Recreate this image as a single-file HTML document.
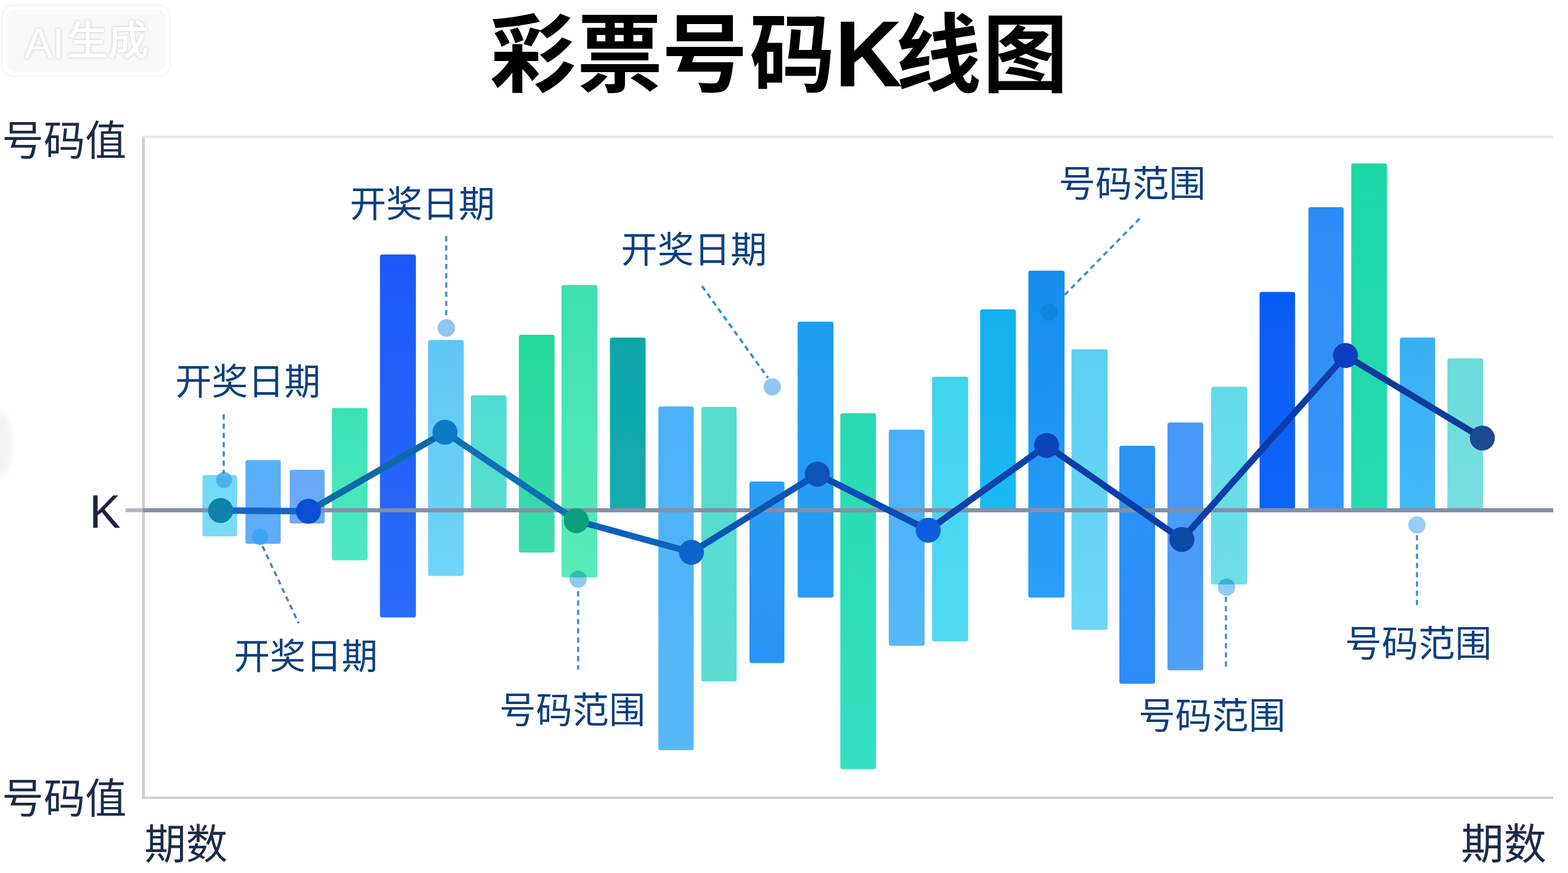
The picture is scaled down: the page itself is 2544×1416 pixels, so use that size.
<!DOCTYPE html>
<html lang="zh"><head><meta charset="utf-8"><title>彩票号码K线图</title>
<style>
html,body{margin:0;padding:0;background:#fff;font-family:"Liberation Sans",sans-serif;}
body{width:2544px;height:1416px;overflow:hidden;}
svg{display:block;}
svg text{font-family:"Liberation Sans","Noto Sans CJK SC",sans-serif;}
</style></head><body>
<svg role="img" aria-label="彩票号码K线图" width="2544" height="1416" viewBox="0 0 2544 1416">
<title>彩票号码K线图</title>
<desc>彩票号码K线图 — 纵轴: 号码值, K; 横轴: 期数; 标注: 开奖日期, 号码范围; 水印: AI生成</desc>
<defs>
<filter id="wmsh" x="-10%" y="-20%" width="120%" height="140%"><feDropShadow dx="0" dy="0" stdDeviation="3" flood-color="#000" flood-opacity="0.10"/></filter>
<filter id="txsh" x="-10%" y="-20%" width="120%" height="140%"><feDropShadow dx="0" dy="0" stdDeviation="2.2" flood-color="#000" flood-opacity="0.22"/></filter>
<filter id="soft3" x="-50%" y="-50%" width="200%" height="200%"><feGaussianBlur stdDeviation="5"/></filter>
<filter id="soft" x="0" y="0" width="100%" height="100%" filterUnits="userSpaceOnUse"><feGaussianBlur stdDeviation="0.55"/></filter>
<linearGradient id="b0" x1="0" y1="0" x2="0" y2="1"><stop offset="0" stop-color="#72d8f8"/><stop offset="1" stop-color="#7adcf8"/></linearGradient>
<linearGradient id="b1" x1="0" y1="0" x2="0" y2="1"><stop offset="0" stop-color="#56b0f8"/><stop offset="1" stop-color="#62aaf8"/></linearGradient>
<linearGradient id="b2" x1="0" y1="0" x2="0" y2="1"><stop offset="0" stop-color="#64aaf8"/><stop offset="1" stop-color="#6ea8f8"/></linearGradient>
<linearGradient id="b3" x1="0" y1="0" x2="0" y2="1"><stop offset="0" stop-color="#3ce2b4"/><stop offset="1" stop-color="#50eac2"/></linearGradient>
<linearGradient id="b4" x1="0" y1="0" x2="0" y2="1"><stop offset="0" stop-color="#1c58f6"/><stop offset="1" stop-color="#2a6cfa"/></linearGradient>
<linearGradient id="b5" x1="0" y1="0" x2="0" y2="1"><stop offset="0" stop-color="#5ec6f4"/><stop offset="1" stop-color="#70d6f8"/></linearGradient>
<linearGradient id="b6" x1="0" y1="0" x2="0" y2="1"><stop offset="0" stop-color="#4cdcd2"/><stop offset="1" stop-color="#5adece"/></linearGradient>
<linearGradient id="b7" x1="0" y1="0" x2="0" y2="1"><stop offset="0" stop-color="#22d89a"/><stop offset="1" stop-color="#3cdcac"/></linearGradient>
<linearGradient id="b8" x1="0" y1="0" x2="0" y2="1"><stop offset="0" stop-color="#3edfb0"/><stop offset="1" stop-color="#58ecb8"/></linearGradient>
<linearGradient id="b9" x1="0" y1="0" x2="0" y2="1"><stop offset="0" stop-color="#0ea6aa"/><stop offset="1" stop-color="#14acae"/></linearGradient>
<linearGradient id="b10" x1="0" y1="0" x2="0" y2="1"><stop offset="0" stop-color="#4ab2f8"/><stop offset="1" stop-color="#56b8f8"/></linearGradient>
<linearGradient id="b11" x1="0" y1="0" x2="0" y2="1"><stop offset="0" stop-color="#54dccc"/><stop offset="1" stop-color="#5cdcd2"/></linearGradient>
<linearGradient id="b12" x1="0" y1="0" x2="0" y2="1"><stop offset="0" stop-color="#2c9ef4"/><stop offset="1" stop-color="#2894f4"/></linearGradient>
<linearGradient id="b13" x1="0" y1="0" x2="0" y2="1"><stop offset="0" stop-color="#1e9cee"/><stop offset="1" stop-color="#2a9cf8"/></linearGradient>
<linearGradient id="b14" x1="0" y1="0" x2="0" y2="1"><stop offset="0" stop-color="#28dab4"/><stop offset="1" stop-color="#34e0c0"/></linearGradient>
<linearGradient id="b15" x1="0" y1="0" x2="0" y2="1"><stop offset="0" stop-color="#4ab0f8"/><stop offset="1" stop-color="#56b8f8"/></linearGradient>
<linearGradient id="b16" x1="0" y1="0" x2="0" y2="1"><stop offset="0" stop-color="#40d4ee"/><stop offset="1" stop-color="#52d8f2"/></linearGradient>
<linearGradient id="b17" x1="0" y1="0" x2="0" y2="1"><stop offset="0" stop-color="#14b0ee"/><stop offset="1" stop-color="#1eb8f4"/></linearGradient>
<linearGradient id="b18" x1="0" y1="0" x2="0" y2="1"><stop offset="0" stop-color="#168eee"/><stop offset="1" stop-color="#2a9efa"/></linearGradient>
<linearGradient id="b19" x1="0" y1="0" x2="0" y2="1"><stop offset="0" stop-color="#5acef2"/><stop offset="1" stop-color="#6ed8f8"/></linearGradient>
<linearGradient id="b20" x1="0" y1="0" x2="0" y2="1"><stop offset="0" stop-color="#2a94f4"/><stop offset="1" stop-color="#2e8cf6"/></linearGradient>
<linearGradient id="b21" x1="0" y1="0" x2="0" y2="1"><stop offset="0" stop-color="#4698f8"/><stop offset="1" stop-color="#50a0f8"/></linearGradient>
<linearGradient id="b22" x1="0" y1="0" x2="0" y2="1"><stop offset="0" stop-color="#62dcea"/><stop offset="1" stop-color="#6edee6"/></linearGradient>
<linearGradient id="b23" x1="0" y1="0" x2="0" y2="1"><stop offset="0" stop-color="#065cf4"/><stop offset="1" stop-color="#0c64f6"/></linearGradient>
<linearGradient id="b24" x1="0" y1="0" x2="0" y2="1"><stop offset="0" stop-color="#2c8cf6"/><stop offset="1" stop-color="#3696fa"/></linearGradient>
<linearGradient id="b25" x1="0" y1="0" x2="0" y2="1"><stop offset="0" stop-color="#1cd8a6"/><stop offset="1" stop-color="#26dab0"/></linearGradient>
<linearGradient id="b26" x1="0" y1="0" x2="0" y2="1"><stop offset="0" stop-color="#38b0f2"/><stop offset="1" stop-color="#42b8f6"/></linearGradient>
<linearGradient id="b27" x1="0" y1="0" x2="0" y2="1"><stop offset="0" stop-color="#6adcdc"/><stop offset="1" stop-color="#78dede"/></linearGradient>
</defs>
<rect width="2544" height="1416" fill="#fff"/>
<g filter="url(#soft)">
<rect x="7" y="13" width="265" height="106" rx="17" fill="#f9f9f9" stroke="#ffffff" stroke-width="6" filter="url(#wmsh)"/>
<g filter="url(#txsh)">
<text x="40" y="94" font-size="68" font-weight="500" fill="#ffffff">AI</text>
<text x="109.16" y="88.86" font-size="66" font-weight="500" fill="#ffffff">生成</text>
</g>
<ellipse cx="0" cy="720" rx="20" ry="54" fill="#f4f4f4" filter="url(#soft3)"/>
<line x1="232.7" y1="220" x2="232.7" y2="1296" stroke="#cdced3" stroke-width="4.6"/>
<line x1="230.4" y1="222" x2="2520" y2="222" stroke="#e6e7ea" stroke-width="3.6"/>
<line x1="230.4" y1="1294" x2="2520" y2="1294" stroke="#cfd0d5" stroke-width="4.2"/>
<line x1="1849" y1="354.5" x2="1716" y2="490" stroke="#3d8fd6" stroke-width="3.6" stroke-dasharray="8.5 6.5" fill="none"/>
<rect x="328.5" y="770.5" width="56.2" height="99.5" rx="3.5" fill="url(#b0)"/>
<rect x="398.3" y="746.2" width="57.2" height="135.8" rx="3.5" fill="url(#b1)"/>
<rect x="470.0" y="762.0" width="56.8" height="87.0" rx="3.5" fill="url(#b2)"/>
<rect x="538.5" y="661.7" width="57.9" height="247.0" rx="3.5" fill="url(#b3)"/>
<rect x="616.5" y="412.7" width="58.3" height="588.8" rx="3.5" fill="url(#b4)"/>
<rect x="694.5" y="551.4" width="58.0" height="382.8" rx="3.5" fill="url(#b5)"/>
<rect x="764.0" y="641.3" width="57.8" height="184.7" rx="3.5" fill="url(#b6)"/>
<rect x="841.8" y="543.0" width="57.9" height="353.3" rx="3.5" fill="url(#b7)"/>
<rect x="911.0" y="462.3" width="58.0" height="474.2" rx="3.5" fill="url(#b8)"/>
<rect x="989.6" y="547.6" width="57.9" height="278.4" rx="3.5" fill="url(#b9)"/>
<rect x="1068.2" y="659.3" width="57.3" height="557.4" rx="3.5" fill="url(#b10)"/>
<rect x="1137.8" y="660.0" width="57.4" height="445.3" rx="3.5" fill="url(#b11)"/>
<rect x="1216.0" y="781.0" width="56.7" height="294.4" rx="3.5" fill="url(#b12)"/>
<rect x="1294.2" y="521.8" width="58.1" height="447.5" rx="3.5" fill="url(#b13)"/>
<rect x="1363.3" y="670.2" width="58.0" height="577.3" rx="3.5" fill="url(#b14)"/>
<rect x="1442.0" y="696.9" width="58.2" height="350.6" rx="3.5" fill="url(#b15)"/>
<rect x="1512.3" y="611.1" width="58.5" height="429.3" rx="3.5" fill="url(#b16)"/>
<rect x="1590.2" y="501.7" width="58.0" height="324.3" rx="3.5" fill="url(#b17)"/>
<rect x="1668.4" y="439.0" width="58.8" height="530.2" rx="3.5" fill="url(#b18)"/>
<rect x="1738.5" y="566.4" width="58.5" height="455.1" rx="3.5" fill="url(#b19)"/>
<rect x="1816.1" y="723.0" width="57.9" height="386.0" rx="3.5" fill="url(#b20)"/>
<rect x="1894.2" y="685.3" width="57.9" height="401.9" rx="3.5" fill="url(#b21)"/>
<rect x="1965.0" y="627.3" width="58.6" height="320.7" rx="3.5" fill="url(#b22)"/>
<rect x="2043.6" y="473.5" width="57.6" height="352.5" rx="3.5" fill="url(#b23)"/>
<rect x="2122.8" y="336.1" width="57.2" height="489.9" rx="3.5" fill="url(#b24)"/>
<rect x="2192.3" y="265.2" width="58.1" height="560.8" rx="3.5" fill="url(#b25)"/>
<rect x="2271.2" y="547.6" width="57.3" height="278.4" rx="3.5" fill="url(#b26)"/>
<rect x="2348.3" y="581.2" width="58.0" height="244.8" rx="3.5" fill="url(#b27)"/>
<circle cx="363.6" cy="778.5" r="13.0" fill="#45aee6" fill-opacity="0.85"/>
<line x1="363.0" y1="672.0" x2="363.0" y2="768.0" stroke="#3f86c4" stroke-width="3.5" stroke-dasharray="8.5 6.5" fill="none"/>
<circle cx="724.2" cy="532.0" r="14.3" fill="#8fc6f2" fill-opacity="1"/>
<line x1="724.0" y1="383.0" x2="724.0" y2="518.0" stroke="#3f8fd2" stroke-width="3.5" stroke-dasharray="8.5 6.5" fill="none"/>
<circle cx="1253.0" cy="627.5" r="14.0" fill="#93c7f0" fill-opacity="1"/>
<line x1="1139.0" y1="464.0" x2="1246.0" y2="613.0" stroke="#3b8ed8" stroke-width="3.8" stroke-dasharray="8.5 6.5" fill="none"/>
<circle cx="422.0" cy="871.0" r="13.0" fill="#3aa2f6" fill-opacity="0.9"/>
<line x1="426.0" y1="886.0" x2="484.5" y2="1011.0" stroke="#3f86c8" stroke-width="3.5" stroke-dasharray="8.5 6.5" fill="none"/>
<circle cx="938.0" cy="939.5" r="14.0" fill="#8ccdf2" fill-opacity="1" style="mix-blend-mode:multiply"/>
<line x1="938.0" y1="959.0" x2="938.0" y2="1086.0" stroke="#3f8fd2" stroke-width="3.5" stroke-dasharray="8.5 6.5" fill="none"/>
<circle cx="1702.0" cy="506.3" r="14.0" fill="#0e86de" fill-opacity="1"/>
<circle cx="1990.0" cy="952.5" r="14.0" fill="#90ccf4" fill-opacity="1" style="mix-blend-mode:multiply"/>
<line x1="1989.0" y1="968.0" x2="1989.0" y2="1086.0" stroke="#3f8fd2" stroke-width="3.5" stroke-dasharray="8.5 6.5" fill="none"/>
<circle cx="2299.0" cy="851.5" r="14.0" fill="#98cdf6" fill-opacity="1"/>
<line x1="2299.0" y1="868.0" x2="2299.0" y2="984.0" stroke="#3f8fd2" stroke-width="3.5" stroke-dasharray="8.5 6.5" fill="none"/>
<line x1="204" y1="827.6" x2="232" y2="827.6" stroke="#b4b7c2" stroke-width="6.4"/>
<line x1="232" y1="827.6" x2="2520" y2="827.6" stroke="#8390a8" stroke-width="6.8"/>
<line x1="358.0" y1="828.0" x2="500.5" y2="829.2" stroke="#1466c6" stroke-width="10.4" stroke-linecap="round"/>
<line x1="500.5" y1="829.2" x2="722.0" y2="701.0" stroke="#0e6aa6" stroke-width="10.4" stroke-linecap="round"/>
<line x1="722.0" y1="701.0" x2="935.0" y2="844.5" stroke="#0a70b2" stroke-width="10.4" stroke-linecap="round"/>
<line x1="935.0" y1="844.5" x2="1121.8" y2="895.8" stroke="#0a62ba" stroke-width="10.4" stroke-linecap="round"/>
<line x1="1121.8" y1="895.8" x2="1326.0" y2="769.0" stroke="#0a54b2" stroke-width="10.4" stroke-linecap="round"/>
<line x1="1326.0" y1="769.0" x2="1506.0" y2="860.0" stroke="#0a4cb6" stroke-width="10.4" stroke-linecap="round"/>
<line x1="1506.0" y1="860.0" x2="1698.0" y2="722.4" stroke="#0a42aa" stroke-width="10.4" stroke-linecap="round"/>
<line x1="1698.0" y1="722.4" x2="1917.5" y2="875.0" stroke="#0a3ea8" stroke-width="10.4" stroke-linecap="round"/>
<line x1="1917.5" y1="875.0" x2="2183.0" y2="576.6" stroke="#0a3ca8" stroke-width="10.4" stroke-linecap="round"/>
<line x1="2183.0" y1="576.6" x2="2405.0" y2="710.5" stroke="#0c3a9a" stroke-width="10.4" stroke-linecap="round"/>
<circle cx="358.0" cy="828.0" r="20.3" fill="#0a84a8" fill-opacity="1"/>
<circle cx="500.5" cy="829.2" r="20.3" fill="#0a50d2" fill-opacity="1"/>
<circle cx="722.0" cy="701.0" r="20.3" fill="#0a7ac8" fill-opacity="1"/>
<circle cx="935.0" cy="844.5" r="20.3" fill="#0aa07c" fill-opacity="1"/>
<circle cx="1121.8" cy="895.8" r="20.3" fill="#0a64ca" fill-opacity="1"/>
<circle cx="1326.0" cy="769.0" r="20.3" fill="#0a52b8" fill-opacity="1"/>
<circle cx="1506.0" cy="860.0" r="20.3" fill="#0a5ce0" fill-opacity="1"/>
<circle cx="1698.0" cy="722.4" r="20.3" fill="#0a44b8" fill-opacity="1"/>
<circle cx="1917.5" cy="875.0" r="20.3" fill="#0a48a8" fill-opacity="1"/>
<circle cx="2183.0" cy="576.6" r="20.3" fill="#0a3cc0" fill-opacity="1"/>
<circle cx="2405.0" cy="710.5" r="20.3" fill="#1a4a90" fill-opacity="1"/>
<text y="138" font-size="139" font-weight="bold" fill="#000"><tspan x="795">彩</tspan><tspan x="936">票</tspan><tspan x="1074">号</tspan><tspan x="1216">码</tspan><tspan x="1354" y="140" font-size="152">K</tspan><tspan x="1453" y="138">线</tspan><tspan x="1594">图</tspan></text>
<text x="3.26" y="251.85" font-size="67.4" fill="#1d2b4b">号码值</text>
<text x="3.26" y="1318.53" font-size="67.4" fill="#1d2b4b">号码值</text>
<text x="145" y="855.7" font-size="76" fill="#1a2240">K</text>
<text x="234.23" y="1393.19" font-size="67.6" fill="#1d2b4b">期数</text>
<text x="2370.47" y="1394.37" font-size="69.3" fill="#1d2b4b">期数</text>
<text x="284.54" y="640.25" font-size="58.9" fill="#08407f">开奖日期</text>
<text x="567.74" y="351.65" font-size="58.8" fill="#08407f">开奖日期</text>
<text x="1007.62" y="426.47" font-size="59.2" fill="#08407f">开奖日期</text>
<text x="379.57" y="1085.38" font-size="58.3" fill="#08407f">开奖日期</text>
<text x="810.37" y="1173.37" font-size="59.2" fill="#08407f">号码范围</text>
<text x="1717.74" y="318.84" font-size="59.6" fill="#08407f">号码范围</text>
<text x="1847.15" y="1182.25" font-size="59.6" fill="#08407f">号码范围</text>
<text x="2182.25" y="1064.82" font-size="59.5" fill="#08407f">号码范围</text>
</g>
</svg>
</body></html>
